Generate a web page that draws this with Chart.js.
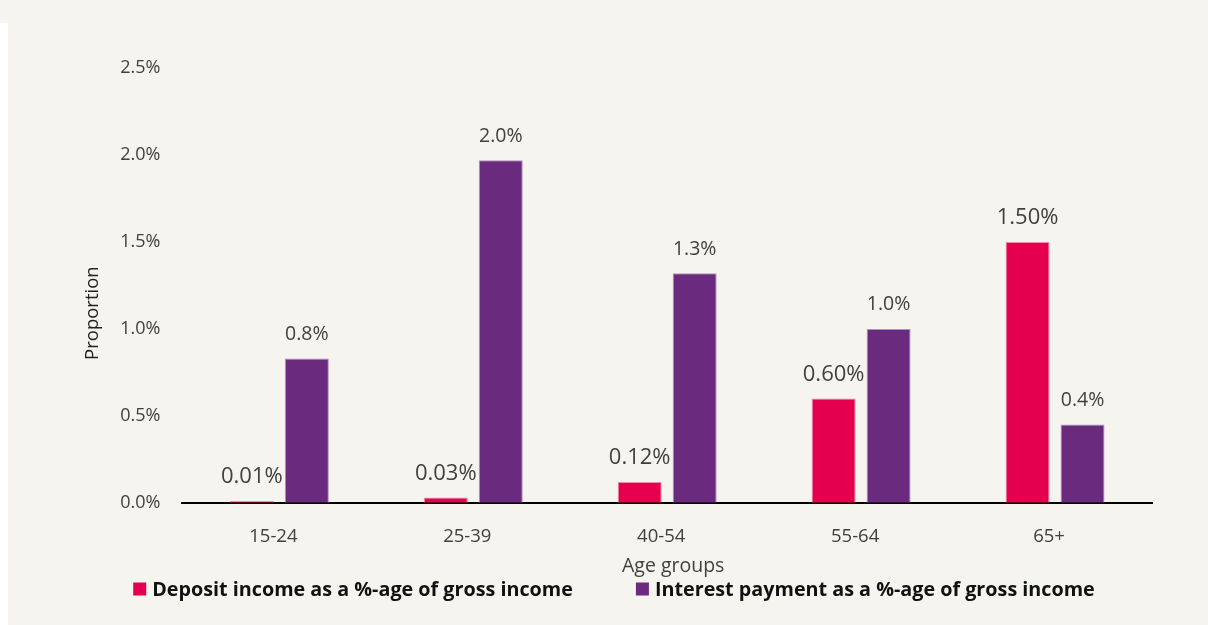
<!DOCTYPE html>
<html>
<head>
<meta charset="utf-8">
<script src="https://cdn.jsdelivr.net/npm/chart.js@4"></script>
<style>
  html, body { margin: 0; padding: 0; background: #f5f4ee; }
  #wrap { position: relative; width: 1208px; height: 625px; }
  #edge { position: absolute; left: 0; top: 23px; width: 8px; height: 602px; background: #ffffff; }
</style>
</head>
<body>
<div id="wrap">
  <div id="edge"></div>
  <canvas id="chart" width="1208" height="625"></canvas>
</div>
<script>
const ageGroups = ["15-24", "25-39", "40-54", "55-64", "65+"];
const depositIncome = [0.01, 0.03, 0.12, 0.60, 1.50];
const interestPayment = [0.83, 1.97, 1.32, 1.0, 0.45];
const depositLabels = ["0.01%", "0.03%", "0.12%", "0.60%", "1.50%"];
const interestLabels = ["0.8%", "2.0%", "1.3%", "1.0%", "0.4%"];
const xTitle = "Age groups";

const fontFamily = "'Open Sans', 'Noto Sans', sans-serif";
const textColor = "#404040";

// draws the value labels above each bar
const barLabels = {
  id: "barLabels",
  afterDatasetsDraw(chart) {
    const { ctx } = chart;
    chart.data.datasets.forEach((dataset, i) => {
      const meta = chart.getDatasetMeta(i);
      ctx.save();
      ctx.fillStyle = textColor;
      ctx.textAlign = "center";
      ctx.textBaseline = "middle";
      ctx.font = `${dataset.labelSize}px ${fontFamily}`;
      meta.data.forEach((bar, j) => {
        ctx.fillText(dataset.valueLabels[j], bar.x, bar.y - dataset.labelOffset);
      });
      ctx.restore();
    });
  },
};

// x axis title and a one-line legend under it
const bottomLegend = {
  id: "bottomLegend",
  afterDraw(chart) {
    const { ctx, chartArea } = chart;
    ctx.save();
    ctx.font = `19.5px ${fontFamily}`;
    ctx.fillStyle = textColor;
    ctx.textAlign = "center";
    ctx.textBaseline = "middle";
    ctx.fillText(xTitle, (chartArea.left + chartArea.right) / 2 + 6, chartArea.bottom + 64);

    const box = 13, gapText = 6, gapItem = 63, centerX = 614, y = 589;
    ctx.font = `bold 19.75px ${fontFamily}`;
    ctx.textAlign = "left";
    const items = chart.data.datasets.map((d) => ({
      text: d.label,
      color: d.backgroundColor,
      w: ctx.measureText(d.label).width,
    }));
    const total = items.reduce((s, it) => s + box + gapText + it.w, 0) + gapItem * (items.length - 1);
    let x = centerX - total / 2;
    items.forEach((it) => {
      ctx.fillStyle = it.color;
      ctx.fillRect(x, y - box / 2, box, box);
      ctx.fillStyle = "#111111";
      ctx.fillText(it.text, x + box + gapText, y + 1);
      x += box + gapText + it.w + gapItem;
    });
    ctx.restore();
  },
};

new Chart(document.getElementById("chart"), {
  type: "bar",
  data: {
    labels: ageGroups,
    datasets: [
      {
        label: "Deposit income as a %-age of gross income",
        data: depositIncome,
        backgroundColor: "#e4004f",
        borderColor: "#f08aae",
        borderWidth: 1,
        valueLabels: depositLabels,
        labelSize: 22,
        labelOffset: 24,
      },
      {
        label: "Interest payment as a %-age of gross income",
        data: interestPayment,
        backgroundColor: "#6a2a7e",
        borderColor: "#b58fc0",
        borderWidth: 1,
        valueLabels: interestLabels,
        labelSize: 19.5,
        labelOffset: 24,
      },
    ],
  },
  options: {
    responsive: false,
    animation: false,
    devicePixelRatio: 1,
    categoryPercentage: 0.567,
    barPercentage: 0.8,
    layout: { padding: { top: 68, right: 56, left: 76, bottom: 54 } },
    plugins: {
      legend: { display: false },
      tooltip: { enabled: false },
    },
    scales: {
      x: {
        grid: { display: false, drawTicks: false },
        border: { display: true, color: "#000000", width: 2 },
        ticks: { color: textColor, padding: 23, labelOffset: -6, font: { family: fontFamily, size: 18.5 } },
      },
      y: {
        min: 0,
        max: 2.5,
        grid: { display: false, drawTicks: false },
        border: { display: false },
        ticks: {
          stepSize: 0.5,
          color: textColor,
          padding: 22,
          font: { family: fontFamily, size: 18 },
          callback: (value) => value.toFixed(1) + "%",
        },
        title: {
          display: true,
          text: "Proportion\u2002\u2002\u2002\u2002\u2002\u2002",
          color: "#222222",
          padding: { top: 6, bottom: -6 },
          font: { family: fontFamily, size: 18.5 },
        },
      },
    },
  },
  plugins: [barLabels, bottomLegend],
});
</script>
</body>
</html>
